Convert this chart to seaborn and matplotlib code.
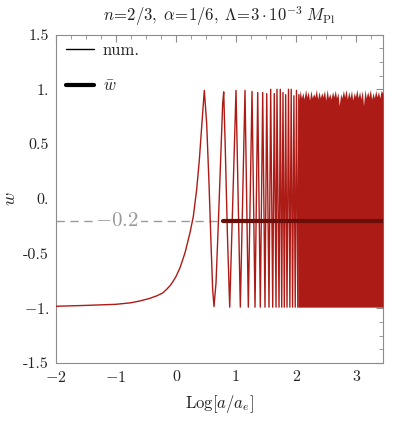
import numpy as np
import pandas as pd
import matplotlib
matplotlib.use("Agg")
import matplotlib.pyplot as plt
import seaborn as sns
from matplotlib.lines import Line2D
from matplotlib.ticker import MultipleLocator

# ---------------- data ----------------
# slow rise and first oscillation (traced points)
rise_x = [-2.0, -1.5, -1.0, -0.75, -0.6, -0.45, -0.322, -0.22, -0.156, -0.1, -0.044, 0.0,
          0.067, 0.15, 0.233, 0.289, 0.344, 0.389, 0.428, 0.456, 0.472,
          0.511, 0.55, 0.583, 0.611, 0.633, 0.667, 0.706, 0.75, 0.778, 0.795,
          0.822, 0.856]
rise_w = [-0.982, -0.974, -0.964, -0.95, -0.933, -0.912, -0.887, -0.86, -0.827, -0.795, -0.75, -0.71,
          -0.63, -0.494, -0.312, -0.16, 0.082, 0.355, 0.658, 0.87, 0.99,
          0.69, 0.143, -0.40, -0.827, -0.985, -0.767, -0.22, 0.445, 0.87, 0.976,
          0.445, -0.31]

# extrema of the later resolved oscillations
peak_x = [1.0, 1.15, 1.267, 1.362, 1.445, 1.512, 1.578, 1.638, 1.683,
          1.738, 1.783, 1.828, 1.875, 1.92, 1.965, 2.008, 2.05]
peak_w = [0.99, 0.99, 0.98, 0.97, 0.97, 0.96, 1.0, 0.96, 1.0,
          1.0, 0.97, 0.95, 1.0, 1.0, 0.94, 0.99, 0.95]
trough_x = [0.895, 1.072, 1.205, 1.317, 1.405, 1.483, 1.55, 1.612, 1.667,
            1.717, 1.762, 1.805, 1.85, 1.898, 1.943, 1.987, 2.03]
trough_w = [-0.99] * 17

# unresolved (dense) oscillation band: jagged upper envelope
band_x = [2.03, 2.05, 2.07, 2.09, 2.115, 2.135, 2.16, 2.18, 2.205, 2.225, 2.25, 2.27,
          2.295, 2.315, 2.34, 2.36, 2.385, 2.405, 2.43, 2.45, 2.475, 2.495, 2.52, 2.54,
          2.565, 2.585, 2.61, 2.63, 2.655, 2.675, 2.70, 2.72, 2.745, 2.765, 2.79, 2.81,
          2.835, 2.855, 2.88, 2.90, 2.925, 2.945, 2.97, 2.99, 3.015, 3.035, 3.06, 3.08,
          3.105, 3.125, 3.15, 3.17, 3.195, 3.215, 3.24, 3.26, 3.285, 3.305, 3.33, 3.35,
          3.375, 3.395, 3.42, 3.45]
band_top = [0.97, 0.90, 0.99, 0.92, 0.97, 0.91, 1.0, 0.93, 0.98, 0.90, 0.99, 0.92,
            0.96, 0.93, 1.0, 0.91, 0.98, 0.92, 0.97, 0.93, 0.99, 0.90, 1.0, 0.92,
            0.96, 0.91, 0.98, 0.93, 0.99, 0.92, 0.97, 0.85, 0.96, 0.92, 0.99, 0.93,
            1.0, 0.91, 0.98, 0.92, 0.99, 0.90, 0.97, 0.93, 1.0, 0.92, 0.98, 0.91,
            0.99, 0.85, 1.0, 0.92, 0.98, 0.93, 1.0, 0.91, 0.97, 0.92, 0.99, 0.93,
            0.98, 0.92, 0.99, 0.96]
band_bottom = -0.99

w_bar = -0.2
w_bar_start = 0.79
x_end = 3.45

title = r"$n\!=\!2/3,\;\alpha\!=\!1/6,\;\Lambda\!=\!3\cdot10^{-3}\;M_{\rm Pl}$"
xticks = [-2, -1, 0, 1, 2, 3]
xticklabels = [r"$-$2", r"$-$1", "0", "1", "2", "3"]
yticks = [1.5, 1.0, 0.5, 0.0, -0.5, -1.0, -1.5]
yticklabels = ["1.5", "1.", "0.5", "0.", "-0.5", r"$-$1.", "-1.5"]

# ---------------- build curve table ----------------
osc_x, osc_w = [], []
for tx, tw, px, pw in zip(trough_x, trough_w, peak_x, peak_w):
    osc_x += [tx, px]
    osc_w += [tw, pw]
curve = pd.DataFrame({"x": rise_x + osc_x, "w": rise_w + osc_w})

# ---------------- style ----------------
sns.set_style("white")
plt.rcParams["font.family"] = ["cmr10", "DejaVu Serif"]
plt.rcParams["mathtext.fontset"] = "cm"
plt.rcParams["axes.formatter.use_mathtext"] = True

red = "#ad1b16"
dark = "#6b0e0a"
gray = "#8c8c8c"

fig = plt.figure(figsize=(4.15, 4.22), dpi=100)
ax = fig.add_axes([56 / 415, 1 - 363 / 422, (383 - 56) / 415, (363 - 34.5) / 422])

# dashed reference line
ax.axhline(w_bar, color="#9a9a9a", lw=1.0, ls=(0, (6, 4)), zorder=1)
ax.text(-0.98, w_bar, r"$-0.2$", color="#999999", fontsize=15, ha="center", va="center",
        bbox=dict(facecolor="white", edgecolor="none", pad=1), zorder=2)

# numerical curve
sns.lineplot(data=curve, x="x", y="w", ax=ax, color=red, lw=1.0, sort=False,
             estimator=None, zorder=3)
ax.fill_between(band_x, band_bottom, band_top, color=red, lw=0, zorder=3)

# averaged w
sns.lineplot(x=[w_bar_start, x_end], y=[w_bar, w_bar], ax=ax, color=dark, lw=3.0, zorder=4)

ax.set_xlim(-2, x_end)
ax.set_ylim(-1.5, 1.5)
ax.set_xticks(xticks)
ax.set_xticklabels(xticklabels)
ax.set_yticks(yticks)
ax.set_yticklabels(yticklabels)
ax.xaxis.set_minor_locator(MultipleLocator(0.25))
ax.yaxis.set_minor_locator(MultipleLocator(0.125))
ax.tick_params(which="both", direction="in", top=True, right=True, colors=gray,
               labelcolor="#222222", labelsize=11.5, pad=5)
ax.tick_params(which="major", length=5, width=0.8)
ax.tick_params(which="minor", length=2.8, width=0.6)
for s in ax.spines.values():
    s.set_color(gray)
    s.set_linewidth(0.8)

ax.set_xlabel(r"$\mathrm{Log}[a/a_e]$", fontsize=12, labelpad=6, color="#222222")
ax.set_ylabel(r"$w$", fontsize=13, labelpad=4, color="#222222")
ax.set_title(title, fontsize=12, pad=10, color="#222222")

handles = [Line2D([], [], color="black", lw=1.0), Line2D([], [], color="black", lw=3.0)]
leg = ax.legend(handles, ["num.", r"$\bar{w}$"], loc="upper left", frameon=False,
                fontsize=12, handlelength=1.7, handletextpad=0.5, labelspacing=1.25,
                borderaxespad=0.2, bbox_to_anchor=(0.0, 1.005))

fig.savefig("out.png", dpi=100)
